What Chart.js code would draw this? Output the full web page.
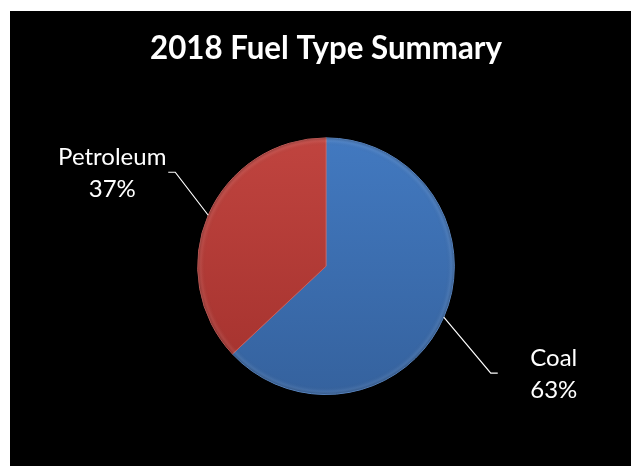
<!DOCTYPE html>
<html>
<head>
<meta charset="utf-8">
<title>2018 Fuel Type Summary</title>
<script src="https://cdn.jsdelivr.net/npm/chart.js@4.4.1/dist/chart.umd.min.js"></script>
<style>
  html, body { margin: 0; padding: 0; background: #fff; }
  #wrap { width: 631px; height: 466px; }
</style>
</head>
<body>
<div id="wrap"><canvas id="fuelChart"></canvas></div>
<script>
'use strict';

// --- data ---
const FUEL_TYPES = ['Coal', 'Petroleum'];
const FUEL_SHARE = [63, 37];
const FUEL_COLORS = [
  ['#4279c0', '#35629e'], // coal: top -> bottom
  ['#c0443f', '#a3312d'], // petroleum
];

// leader line shapes (elbow offset from the slice edge, tail length)
const LEADERS = [
  { dx: 47, dy: 56, tail: 7 },
  { dx: -33, dy: -43, tail: -7 },
];

// black slide background with white margin
const backdrop = {
  id: 'backdrop',
  beforeDraw(chart) {
    const ctx = chart.ctx;
    ctx.save();
    ctx.fillStyle = '#fff';
    ctx.fillRect(0, 0, chart.width, chart.height);
    ctx.fillStyle = '#000';
    ctx.fillRect(10, 11, chart.width - 10, chart.height - 11);
    ctx.restore();
  },
};

// soft bevel on the pie rim
const bevel = {
  id: 'bevel',
  afterDatasetsDraw(chart) {
    const arc = chart.getDatasetMeta(0).data[0];
    if (!arc) return;
    const ctx = chart.ctx;
    const r = arc.outerRadius;
    ctx.save();
    const g = ctx.createRadialGradient(arc.x, arc.y, r - 8, arc.x, arc.y, r);
    g.addColorStop(0, 'rgba(0,0,0,0)');
    g.addColorStop(0.55, 'rgba(255,255,255,0.06)');
    g.addColorStop(1, 'rgba(0,0,0,0.22)');
    ctx.fillStyle = g;
    ctx.beginPath();
    ctx.arc(arc.x, arc.y, r, 0, Math.PI * 2);
    ctx.arc(arc.x, arc.y, r - 8, 0, Math.PI * 2, true);
    ctx.fill();
    ctx.restore();
  },
};

// category + percent labels with leader lines
const pieLabels = {
  id: 'pieLabels',
  afterDatasetsDraw(chart) {
    const ctx = chart.ctx;
    const meta = chart.getDatasetMeta(0);
    const total = FUEL_SHARE.reduce((a, b) => a + b, 0);
    ctx.save();
    meta.data.forEach((arc, i) => {
      const mid = (arc.startAngle + arc.endAngle) / 2;
      const ex = arc.x + Math.cos(mid) * arc.outerRadius;
      const ey = arc.y + Math.sin(mid) * arc.outerRadius;
      const L = LEADERS[i];
      const bx = ex + L.dx, by = ey + L.dy;
      const tx = bx + L.tail;
      ctx.strokeStyle = '#fff';
      ctx.lineWidth = 1.2;
      ctx.beginPath();
      ctx.moveTo(ex, ey);
      ctx.lineTo(bx, by);
      ctx.lineTo(tx, by);
      ctx.stroke();

      const side = L.tail > 0 ? 1 : -1;
      ctx.font = '24px Lato, "Open Sans", sans-serif';
      ctx.fillStyle = '#fff';
      ctx.textAlign = 'center';
      ctx.textBaseline = 'middle';
      const cx = tx + side * 56;
      const pct = Math.round(FUEL_SHARE[i] / total * 100) + '%';
      ctx.fillText(FUEL_TYPES[i], cx, by - 15);
      ctx.fillText(pct, cx, by + 17);
    });
    ctx.restore();
  },
};

new Chart(document.getElementById('fuelChart').getContext('2d'), {
  type: 'pie',
  data: {
    labels: FUEL_TYPES,
    datasets: [{
      data: FUEL_SHARE,
      backgroundColor: (c) => {
        const cols = FUEL_COLORS[c.dataIndex] || FUEL_COLORS[0];
        const area = c.chart.chartArea;
        if (!area) return cols[0];
        const g = c.chart.ctx.createLinearGradient(0, area.top, 0, area.bottom);
        g.addColorStop(0, cols[0]);
        g.addColorStop(1, cols[1]);
        return g;
      },
      borderColor: ['#5f8fcf', '#c95f5b'],
      borderWidth: 1,
    }],
  },
  options: {
    responsive: true,
    maintainAspectRatio: false,
    animation: false,
    layout: { padding: { left: 150, right: 129, top: 0, bottom: 71 } },
    plugins: {
      legend: { display: false },
      tooltip: { enabled: false },
      title: {
        display: true,
        text: '2018 Fuel Type Summary',
        color: '#fff',
        font: { family: 'Lato, "Open Sans", sans-serif', size: 32, weight: 'bold' },
        padding: { top: 29, bottom: 70 },
      },
    },
  },
  plugins: [backdrop, bevel, pieLabels],
});
</script>
</body>
</html>
